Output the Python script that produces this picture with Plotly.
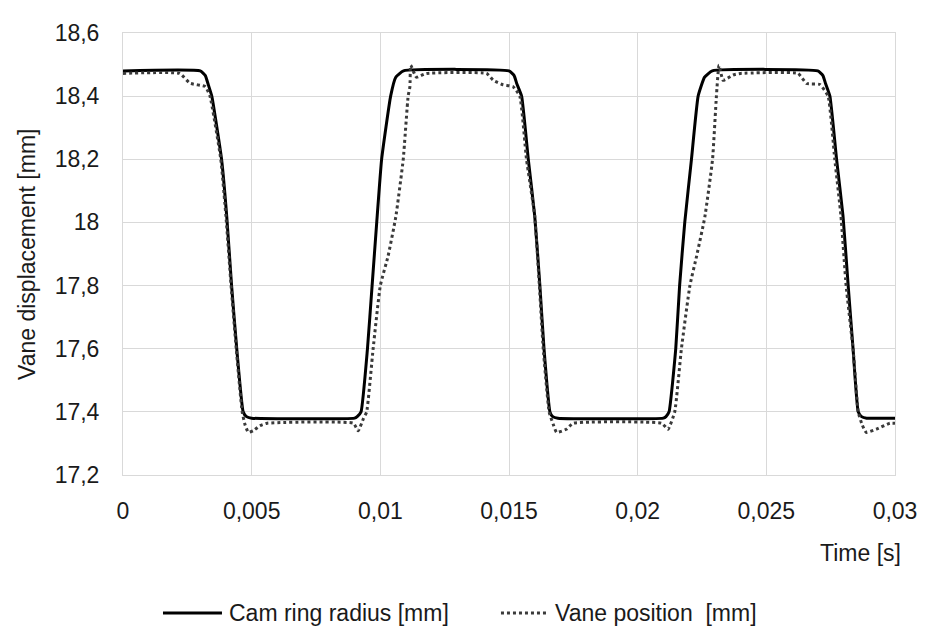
import plotly.graph_objects as go

# Cam ring radius [mm]
cam_t = [0, 0.0030, 0.0032, 0.0033, 0.00345, 0.00383, 0.00403, 0.00422, 0.00442, 0.00467, 0.0048, 0.0050,
         0.0090, 0.0091, 0.00925, 0.00950, 0.00968, 0.00986, 0.01005, 0.01040, 0.0106, 0.0109,
         0.0150, 0.0152, 0.0153, 0.01549, 0.01575, 0.01600, 0.0162, 0.01636, 0.01659, 0.0167, 0.0169,
         0.0210, 0.0211, 0.02122, 0.02148, 0.02163, 0.02183, 0.02209, 0.02235, 0.0226, 0.0229,
         0.0270, 0.0272, 0.0273, 0.02747, 0.02773, 0.02798, 0.02818, 0.02837, 0.02857, 0.0287, 0.0289, 0.0300]
cam_y = [18.48, 18.48, 18.465, 18.44, 18.40, 18.20, 18.02, 17.80, 17.60, 17.40, 17.385, 17.38,
         17.38, 17.385, 17.40, 17.60, 17.80, 18.00, 18.20, 18.40, 18.46, 18.48,
         18.48, 18.465, 18.44, 18.40, 18.20, 18.02, 17.80, 17.60, 17.40, 17.385, 17.38,
         17.38, 17.385, 17.40, 17.60, 17.80, 18.00, 18.20, 18.40, 18.46, 18.48,
         18.48, 18.465, 18.44, 18.40, 18.20, 18.02, 17.80, 17.60, 17.40, 17.385, 17.38, 17.38]

# Vane position [mm]
vane_t = [0, 0.0022, 0.0026, 0.0032, 0.00338, 0.0038, 0.0040, 0.0042, 0.0044, 0.00463, 0.00474, 0.00487,
          0.00506, 0.00532, 0.0056, 0.00895, 0.00914, 0.00935, 0.00947, 0.00972, 0.0100, 0.0103, 0.0106,
          0.01089, 0.01108, 0.01115, 0.01118, 0.0114, 0.01179, 0.01413, 0.01439, 0.01477, 0.01516,
          0.01542, 0.01568, 0.0160, 0.01618, 0.01633, 0.01656, 0.01672, 0.01685, 0.01723, 0.01749,
          0.02093, 0.02118, 0.02144, 0.0217, 0.02203, 0.02229, 0.02261, 0.02291, 0.02306, 0.02316,
          0.02332, 0.02371, 0.0240, 0.02623, 0.02656, 0.02708, 0.0274, 0.02766, 0.0279, 0.0281,
          0.02837, 0.02857, 0.02872, 0.02888, 0.02927, 0.0298, 0.0300]
vane_y = [18.472, 18.472, 18.441, 18.43, 18.40, 18.20, 18.02, 17.80, 17.60, 17.40, 17.36, 17.335,
          17.34, 17.356, 17.364, 17.364, 17.34, 17.38, 17.40, 17.60, 17.80, 17.893, 18.017,
          18.20, 18.40, 18.43, 18.498, 18.46, 18.472, 18.472, 18.45, 18.436, 18.43,
          18.40, 18.20, 18.02, 17.80, 17.60, 17.40, 17.36, 17.335, 17.345, 17.364,
          17.364, 17.345, 17.40, 17.60, 17.80, 17.893, 18.017, 18.20, 18.40, 18.498,
          18.45, 18.467, 18.472, 18.472, 18.44, 18.437, 18.40, 18.20, 18.02, 17.80,
          17.60, 17.40, 17.36, 17.335, 17.345, 17.364, 17.364]

x_ticks = [0, 0.005, 0.01, 0.015, 0.02, 0.025, 0.03]
y_ticks = [17.2, 17.4, 17.6, 17.8, 18.0, 18.2, 18.4, 18.6]

series_names = ["Cam ring radius [mm]", "Vane position\u00a0 [mm]"]
x_title = "Time [s]"
y_title = "Vane displacement [mm]"

FONT = "Liberation Sans, Arial, sans-serif"
TXT = "#1a1a1a"
FS = 23

fig = go.Figure()
fig.add_trace(go.Scatter(x=cam_t, y=cam_y, mode="lines", name=series_names[0],
                         line=dict(color="#000000", width=3, shape="spline", smoothing=0.4)))
fig.add_trace(go.Scatter(x=vane_t, y=vane_y, mode="lines", name=series_names[1],
                         line=dict(color="#3a3a3a", width=3, dash="3px,3px", shape="spline", smoothing=0.4)))

# legend drawn manually (long line samples, as in the reference)
leg_y = -0.312
shapes = [
    dict(type="line", xref="paper", yref="paper", x0=0.0518, x1=0.1282, y0=leg_y, y1=leg_y,
         line=dict(color="#000000", width=3)),
    dict(type="line", xref="paper", yref="paper", x0=0.4896, x1=0.5505, y0=leg_y, y1=leg_y,
         line=dict(color="#3a3a3a", width=3, dash="3px,3px")),
]
annotations = [
    dict(text=series_names[0], xref="paper", yref="paper", x=0.1347, y=leg_y, xanchor="left",
         yanchor="middle", showarrow=False, font=dict(size=FS, family=FONT, color=TXT)),
    dict(text=series_names[1], xref="paper", yref="paper", x=0.557, y=leg_y, xanchor="left",
         yanchor="middle", showarrow=False, font=dict(size=FS, family=FONT, color=TXT)),
    dict(text=x_title, xref="paper", yref="paper", x=1.0104, y=-0.176,
         xanchor="right", yanchor="middle", showarrow=False,
         font=dict(size=FS, family=FONT, color=TXT)),
    dict(text=y_title, xref="paper", yref="paper", x=-0.1244, y=0.5, textangle=-90,
         xanchor="center", yanchor="middle", showarrow=False,
         font=dict(size=FS, family=FONT, color=TXT)),
]

fig.update_layout(
    width=922, height=623,
    margin=dict(l=115, r=35, t=14, b=156),
    paper_bgcolor="white", plot_bgcolor="white",
    separators=", ",
    font=dict(family=FONT, size=FS, color=TXT),
    showlegend=False,
    shapes=shapes,
    annotations=annotations,
)
fig.update_xaxes(range=[0, 0.03], tickvals=x_ticks, showgrid=True, gridcolor="#d9d9d9", gridwidth=1,
                 showline=True, linecolor="#d9d9d9", linewidth=1, mirror=True, zeroline=False,
                 ticks="outside", ticklen=15, tickcolor="rgba(0,0,0,0)", tickfont=dict(size=FS))
fig.update_yaxes(range=[17.2, 18.6], tickvals=y_ticks, showgrid=True, gridcolor="#d9d9d9", gridwidth=1,
                 showline=True, linecolor="#d9d9d9", linewidth=1, mirror=True, zeroline=False,
                 ticks="outside", ticklen=18, tickcolor="rgba(0,0,0,0)", tickfont=dict(size=FS))

fig.write_html("out.html")
